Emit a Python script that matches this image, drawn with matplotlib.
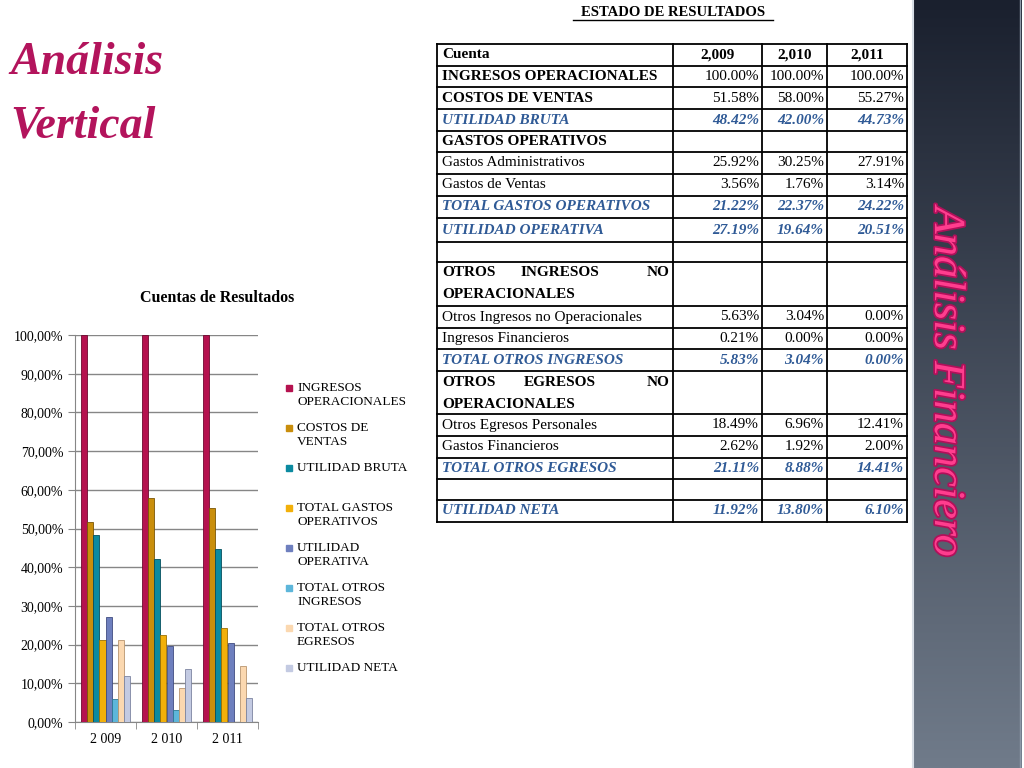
import matplotlib
matplotlib.use("Agg")
import matplotlib.pyplot as plt
import matplotlib.patheffects as pe
import numpy as np
from matplotlib.ticker import FuncFormatter

plt.rcParams['font.family'] = ['Liberation Serif', 'DejaVu Serif']

# datos del grafico
years = ["2 009", "2 010", "2 011"]
series = ["INGRESOS OPERACIONALES", "COSTOS DE VENTAS", "UTILIDAD BRUTA",
          "TOTAL GASTOS OPERATIVOS", "UTILIDAD OPERATIVA", "TOTAL OTROS INGRESOS",
          "TOTAL OTROS EGRESOS", "UTILIDAD NETA"]
legend_labels = ["INGRESOS\nOPERACIONALES", "COSTOS DE\nVENTAS", "UTILIDAD BRUTA",
                 "TOTAL GASTOS\nOPERATIVOS", "UTILIDAD\nOPERATIVA", "TOTAL OTROS\nINGRESOS",
                 "TOTAL OTROS\nEGRESOS", "UTILIDAD NETA"]
ingresos_op = [100.00, 100.00, 100.00]
costos_ventas = [51.58, 58.00, 55.27]
utilidad_bruta = [48.42, 42.00, 44.73]
total_gastos_op = [21.22, 22.37, 24.22]
utilidad_op = [27.19, 19.64, 20.51]
total_otros_ing = [5.83, 3.04, 0.00]
total_otros_egr = [21.11, 8.88, 14.41]
utilidad_neta = [11.92, 13.80, 6.10]
values = [ingresos_op, costos_ventas, utilidad_bruta, total_gastos_op,
          utilidad_op, total_otros_ing, total_otros_egr, utilidad_neta]
colors = ["#B5124F", "#C98E0C", "#0B8AA0", "#F2B00A",
          "#6E7FBE", "#5DB6DA", "#FBD8B0", "#C3CAE2"]
edges = ["#6E0A30", "#7A5606", "#05505E", "#9A7004",
         "#404C80", "#2C7894", "#B89670", "#7C84A0"]

# datos de la tabla
table_header = ["2,009", "2,010", "2,011"]
table_rows = [
    ("INGRESOS OPERACIONALES", ["100.00%", "100.00%", "100.00%"], "bold"),
    ("COSTOS DE VENTAS", ["51.58%", "58.00%", "55.27%"], "bold"),
    ("UTILIDAD BRUTA", ["48.42%", "42.00%", "44.73%"], "total"),
    ("GASTOS OPERATIVOS", ["", "", ""], "bold"),
    ("Gastos Administrativos", ["25.92%", "30.25%", "27.91%"], "normal"),
    ("Gastos de Ventas", ["3.56%", "1.76%", "3.14%"], "normal"),
    ("TOTAL GASTOS OPERATIVOS", ["21.22%", "22.37%", "24.22%"], "total"),
    ("UTILIDAD OPERATIVA", ["27.19%", "19.64%", "20.51%"], "total"),
    ("", ["", "", ""], "normal"),
    ("OTROS INGRESOS NO|OPERACIONALES", ["", "", ""], "split"),
    ("Otros Ingresos no Operacionales", ["5.63%", "3.04%", "0.00%"], "normal"),
    ("Ingresos Financieros", ["0.21%", "0.00%", "0.00%"], "normal"),
    ("TOTAL OTROS INGRESOS", ["5.83%", "3.04%", "0.00%"], "total"),
    ("OTROS EGRESOS NO|OPERACIONALES", ["", "", ""], "split"),
    ("Otros Egresos Personales", ["18.49%", "6.96%", "12.41%"], "normal"),
    ("Gastos Financieros", ["2.62%", "1.92%", "2.00%"], "normal"),
    ("TOTAL OTROS EGRESOS", ["21.11%", "8.88%", "14.41%"], "total"),
    ("", ["", "", ""], "normal"),
    ("UTILIDAD NETA", ["11.92%", "13.80%", "6.10%"], "total"),
]
row_edges = [44, 66, 87, 109, 131, 152, 174, 196, 218, 242, 262,
             306, 328, 349, 371, 414, 436, 458, 479, 500, 522]
col_edges = [437, 673, 762, 827, 907]

fig = plt.figure(figsize=(10.24, 7.68), dpi=100)
fig.patch.set_facecolor("white")

# capa de fondo en pixeles
bg = fig.add_axes([0, 0, 1, 1])
bg.set_xlim(0, 1024)
bg.set_ylim(768, 0)
bg.axis("off")

# franja derecha con degradado
grad = np.linspace(0, 1, 256).reshape(-1, 1)
top = np.array([0x1A, 0x20, 0x2E]) / 255
bot = np.array([0x70, 0x7B, 0x8A]) / 255
img = top + (bot - top) * grad[:, :, None]
bg.imshow(img, extent=[913, 1022, 768, 0], aspect="auto", zorder=0)
bg.plot([913, 913], [0, 768], color="#D8DEE6", lw=1.5, zorder=1)
bg.plot([1020, 1020], [0, 768], color="#8E99A8", lw=1.0, zorder=1)
bg.set_xlim(0, 1024)
bg.set_ylim(768, 0)
bg.text(946, 382, "Análisis Financiero", rotation=-90, ha="center", va="center",
        fontsize=32, style="italic", color="#FF3D8E",
        path_effects=[pe.withStroke(linewidth=2.5, foreground="#B0105A")], zorder=2)

# titulo
bg.text(10, 74, "Análisis", fontsize=33, style="italic", weight="bold",
        color="#B3145C", ha="left", va="baseline")
bg.text(10, 138, "Vertical", fontsize=33, style="italic", weight="bold",
        color="#B3145C", ha="left", va="baseline")

# tabla
bg.text(673, 12, "ESTADO DE RESULTADOS", fontsize=10.5, weight="bold",
        ha="center", va="center")
bg.plot([573, 773], [20, 20], color="black", lw=1.0)
for y in row_edges:
    bg.plot([col_edges[0], col_edges[-1]], [y, y], color="black", lw=1.3)
for x in col_edges:
    bg.plot([x, x], [row_edges[0], row_edges[-1]], color="black", lw=1.3)

fs = 11
y0 = (row_edges[0] + row_edges[1]) / 2
bg.text(col_edges[0] + 5, y0, "Cuenta", fontsize=fs, weight="bold", va="center")
for j, h in enumerate(table_header):
    bg.text((col_edges[j + 1] + col_edges[j + 2]) / 2, y0, h, fontsize=fs,
            weight="bold", ha="center", va="center")

for i, (label, vals, kind) in enumerate(table_rows):
    ya, yb = row_edges[i + 1], row_edges[i + 2]
    yc = (ya + yb) / 2
    if kind == "total":
        kw = dict(weight="bold", style="italic", color="#2F5A96")
        vkw = kw
    elif kind in ("bold", "split"):
        kw = dict(weight="bold", color="black")
        vkw = dict(color="black")
    else:
        kw = dict(color="black")
        vkw = kw
    if kind == "split":
        first, second = label.split("|")
        words = first.split()
        bg.text(col_edges[0] + 5, ya + 11, words[0], fontsize=fs, va="center", **kw)
        bg.text((col_edges[0] + col_edges[1]) / 2 + 5, ya + 11, words[1], fontsize=fs,
                ha="center", va="center", **kw)
        bg.text(col_edges[1] - 3, ya + 11, words[2], fontsize=fs, ha="right", va="center", **kw)
        bg.text(col_edges[0] + 5, ya + 33, second, fontsize=fs, va="center", **kw)
    else:
        bg.text(col_edges[0] + 5, yc, label, fontsize=fs, va="center", **kw)
    for j, v in enumerate(vals):
        bg.text(col_edges[j + 2] - 3, yc, v, fontsize=fs, ha="right", va="center", **vkw)

# grafico de barras
ax = fig.add_axes([75 / 1024, 1 - 722 / 768, 183 / 1024, 387 / 768])
x = np.arange(len(years))
w = 0.1
for k, vals in enumerate(values):
    ax.bar(x + (k - 3.5) * w, vals, w, color=colors[k], edgecolor=edges[k],
           linewidth=0.6, label=series[k], zorder=3)

ax.set_xlim(-0.5, 2.5)
ax.set_ylim(0, 100)
ax.set_yticks(np.arange(0, 101, 10))
ax.yaxis.set_major_formatter(FuncFormatter(lambda v, p: f"{v:.2f}".replace(".", ",") + "%"))
ax.set_xticks(x)
ax.set_xticklabels(years)
ax.set_xticks([-0.5, 0.5, 1.5, 2.5], minor=True)
ax.tick_params(axis="x", which="major", length=0, labelsize=10, pad=8)
ax.tick_params(axis="x", which="minor", length=5, color="#868686")
ax.tick_params(axis="y", length=5, color="#868686", labelsize=10)
ax.grid(axis="y", color="#868686", lw=1.0, zorder=0)
for s in ["top", "right"]:
    ax.spines[s].set_visible(False)
ax.spines["left"].set_color("#868686")
ax.spines["bottom"].set_color("#868686")
ax.set_facecolor("none")

fig.text(217 / 1024, 1 - 298 / 768, "Cuentas de Resultados", fontsize=11.5,
         weight="bold", ha="center", va="center")

# leyenda manual
for k, lab in enumerate(legend_labels):
    yy = 388 + 40 * k
    bg.add_patch(plt.Rectangle((286, yy - 3), 6, 6, color=colors[k], zorder=3))
    bg.text(297, yy - 6, lab, fontsize=9.5, va="top", ha="left", linespacing=1.25)

fig.savefig("out.png", dpi=100)
